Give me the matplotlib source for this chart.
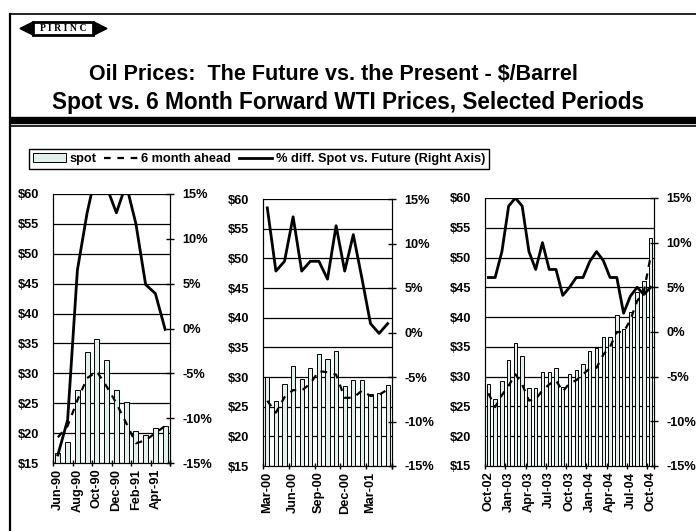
import matplotlib
matplotlib.use('Agg')
import matplotlib.pyplot as plt
from matplotlib.patches import Rectangle, Polygon, Patch
from matplotlib.lines import Line2D
import numpy as np

plt.rcParams['font.family'] = ['Liberation Sans', 'DejaVu Sans']
plt.rcParams['font.weight'] = 'bold'

# period 1: Jun-90 .. May-91
p1_months = ['Jun-90', 'Jul-90', 'Aug-90', 'Sep-90', 'Oct-90', 'Nov-90',
             'Dec-90', 'Jan-91', 'Feb-91', 'Mar-91', 'Apr-91', 'May-91']
p1_spot = [16.7, 18.5, 27.2, 33.5, 35.7, 32.2, 27.2, 25.2, 20.4, 19.7, 20.8, 21.2]
p1_ahead = [19.3, 21.2, 25.5, 29.2, 30.3, 27.8, 25.0, 21.7, 18.3, 18.8, 20.0, 21.2]
p1_diff = [-14.1, -10.2, 6.5, 12.9, 17.8, 15.8, 12.9, 16.1, 11.7, 4.9, 3.9, -0.1]

# period 2: Mar-00 .. May-01
p2_months = ['Mar-00', 'Apr-00', 'May-00', 'Jun-00', 'Jul-00', 'Aug-00', 'Sep-00',
             'Oct-00', 'Nov-00', 'Dec-00', 'Jan-01', 'Feb-01', 'Mar-01', 'Apr-01', 'May-01']
p2_spot = [30.0, 25.9, 28.9, 31.9, 29.7, 31.5, 33.9, 33.0, 34.4, 28.4, 29.5, 29.5, 27.1, 27.3, 28.6]
p2_ahead = [26.0, 24.0, 26.6, 27.8, 27.7, 28.9, 31.0, 30.8, 30.4, 26.5, 26.5, 27.7, 26.8, 27.0, 27.9]
p2_diff = [14.0, 6.9, 8.0, 13.0, 6.9, 8.0, 8.0, 6.0, 12.0, 6.9, 11.0, 6.1, 1.0, -0.1, 1.0]

# period 3: Oct-02 .. Oct-04
p3_months = ['Oct-02', 'Nov-02', 'Dec-02', 'Jan-03', 'Feb-03', 'Mar-03', 'Apr-03',
             'May-03', 'Jun-03', 'Jul-03', 'Aug-03', 'Sep-03', 'Oct-03', 'Nov-03',
             'Dec-03', 'Jan-04', 'Feb-04', 'Mar-04', 'Apr-04', 'May-04', 'Jun-04',
             'Jul-04', 'Aug-04', 'Sep-04', 'Oct-04']
p3_spot = [28.8, 26.2, 29.3, 32.8, 35.7, 33.4, 28.1, 28.1, 30.7, 30.7, 31.5, 28.2, 30.4,
           31.1, 32.1, 34.3, 34.8, 36.7, 36.7, 40.3, 38.0, 40.8, 44.3, 46.0, 53.3]
p3_ahead = [27.2, 24.9, 26.9, 28.5, 30.4, 28.7, 26.0, 26.2, 27.7, 28.7, 29.4, 27.5, 28.9,
            29.4, 30.4, 31.4, 31.5, 33.7, 35.0, 37.5, 37.5, 39.5, 42.7, 44.3, 50.2]
p3_diff = [6.1, 6.1, 9.0, 14.1, 15.0, 14.1, 9.0, 7.0, 10.0, 7.0, 7.0, 4.1, 5.0,
           6.1, 6.1, 7.9, 9.0, 8.0, 6.1, 6.1, 2.1, 4.0, 5.0, 4.2, 5.0]

W, H = 696, 531
BAR_COLOR = '#e2f1ec'
FS = 9.2

fig = plt.figure(figsize=(W / 100, H / 100), dpi=100)


def px(x, y):
    return x / W, 1 - y / H


def add_line(x0, y0, x1, y1, lw):
    a, b = px(x0, y0)
    c, d = px(x1, y1)
    fig.add_artist(Line2D([a, c], [b, d], color='black', lw=lw, transform=fig.transFigure))


# frame around the slide
add_line(10, 14, 700, 14, 1.2)
add_line(10, 14, 10, 540, 1.6)
x0, y0 = px(10, 123)
fig.add_artist(Rectangle((x0, y0), 1.0, 6 / H, color='black', transform=fig.transFigure))
add_line(10, 126.5, 700, 126.5, 1.2)

# PIRINC logo
fig.add_artist(Polygon([px(20, 28.5), px(34, 21.5), px(34, 35.5)], color='black', transform=fig.transFigure))
fig.add_artist(Polygon([px(93, 21.5), px(107, 28.5), px(93, 35.5)], color='black', transform=fig.transFigure))
bx, by = px(33, 35)
fig.add_artist(Rectangle((bx, by), 60 / W, 13 / H, facecolor='white', edgecolor='black',
                         lw=2, transform=fig.transFigure))
fig.text(63 / W, 1 - 28.5 / H, 'P I R I N C', family='Liberation Serif', fontsize=7,
         weight='bold', ha='center', va='center')

# titles
fig.text(333 / W, 1 - 75 / H, 'Oil Prices:  The Future vs. the Present - $/Barrel',
         fontsize=15.5, weight='bold', ha='center', va='center')
fig.text(348 / W, 1 - 103 / H, 'Spot vs. 6 Month Forward WTI Prices, Selected Periods',
         fontsize=16.3, weight='bold', ha='center', va='center')


def draw_panel(left, top, right, bottom, months, spot, ahead, diff, step):
    ax = fig.add_axes([left / W, 1 - bottom / H, (right - left) / W, (bottom - top) / H])
    n = len(months)
    x = np.arange(n)
    ax.bar(x, spot, width=0.5, color=BAR_COLOR, edgecolor='black', linewidth=0.7, zorder=3)
    ax.plot(x, ahead, color='black', lw=1.6, ls=(0, (3, 3)), zorder=4)
    ax.set_xlim(-0.5, n - 0.5)
    ax.set_ylim(15, 60)
    ticks = list(range(15, 61, 5))
    ax.set_yticks(ticks)
    ax.set_yticklabels(['$%d' % t for t in ticks], fontsize=FS, weight='bold')
    ax.yaxis.grid(True, color='black', lw=0.9)
    ax.set_axisbelow(True)
    ax.set_xticks(x[::step])
    ax.set_xticklabels(months[::step], rotation=90, fontsize=FS, weight='bold')
    ax.set_xticks(list(np.arange(-0.5, n, step)) + [n - 0.5], minor=True)
    ax.tick_params(axis='x', which='major', length=0, pad=4)
    ax.tick_params(axis='x', which='minor', length=5, direction='inout', width=1)
    ax.tick_params(axis='y', length=0, pad=10)
    ax.spines['top'].set_visible(False)

    ax2 = ax.twinx()
    ax2.plot(x, diff, color='black', lw=2, zorder=5)
    ax2.set_ylim(-15, 15)
    rt = list(range(-15, 16, 5))
    ax2.set_yticks(rt)
    ax2.set_yticklabels(['%d%%' % t for t in rt], fontsize=FS, weight='bold')
    ax2.tick_params(axis='y', length=6, direction='inout', width=1, pad=6)
    ax2.spines['top'].set_visible(False)
    return ax


draw_panel(53, 194, 170, 463, p1_months, p1_spot, p1_ahead, p1_diff, 2)
draw_panel(263, 199, 392, 466, p2_months, p2_spot, p2_ahead, p2_diff, 3)
draw_panel(485, 198, 654, 466, p3_months, p3_spot, p3_ahead, p3_diff, 3)

handles = [Patch(facecolor=BAR_COLOR, edgecolor='black', lw=0.7),
           Line2D([], [], color='black', lw=1.6, ls=(0, (3, 3))),
           Line2D([], [], color='black', lw=2)]
labels = ['spot', '6 month ahead', '% diff. Spot vs. Future (Right Axis)']
leg = fig.legend(handles, labels, loc='center', bbox_to_anchor=(259 / W, 1 - 159 / H),
                 ncol=3, fontsize=FS, frameon=True, fancybox=False, edgecolor='black',
                 framealpha=1, borderpad=0.3, handlelength=2.6, handletextpad=0.3,
                 columnspacing=0.6)
leg.get_frame().set_linewidth(1)

fig.savefig('out.png', dpi=100)
